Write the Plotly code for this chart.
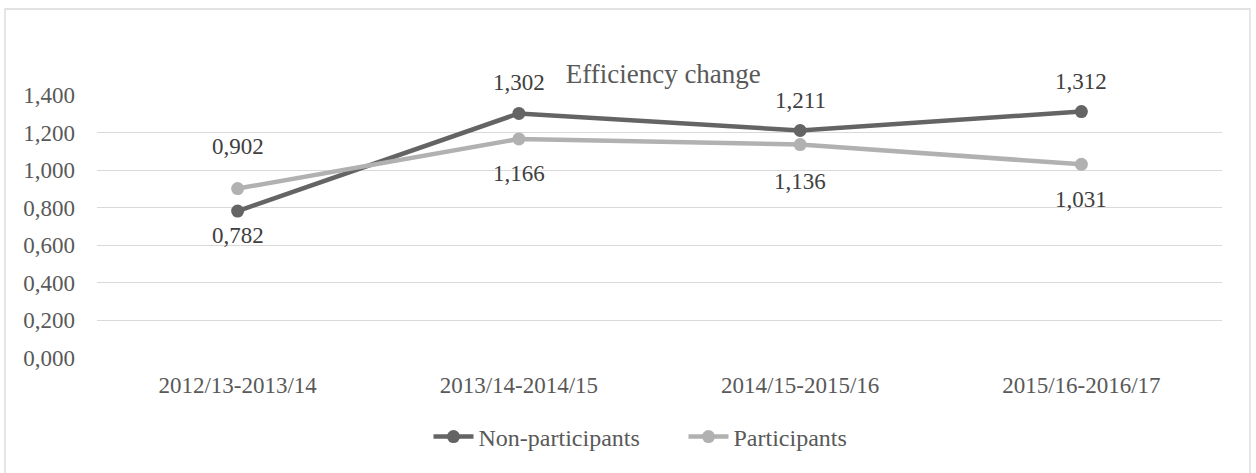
import plotly.graph_objects as go

categories = ["2012/13-2013/14", "2013/14-2014/15", "2014/15-2015/16", "2015/16-2016/17"]
non_participants = [0.782, 1.302, 1.211, 1.312]
participants = [0.902, 1.166, 1.136, 1.031]
y_ticks = [0.0, 0.2, 0.4, 0.6, 0.8, 1.0, 1.2, 1.4]

# label offsets in pixels (style only)
non_label_shift = [-24, 31, 30, 30]
part_label_shift = [42, -35, -37, -35]

DARK = "#646464"
LIGHT = "#b1b1b1"
TEXT = "#595959"
FONT = "Liberation Serif, Times New Roman, serif"

fig = go.Figure()
fig.add_trace(go.Scatter(x=categories, y=non_participants, name="Non-participants",
                         mode="lines+markers", line=dict(color=DARK, width=4.5),
                         marker=dict(color=DARK, size=13)))
fig.add_trace(go.Scatter(x=categories, y=participants, name="Participants",
                         mode="lines+markers", line=dict(color=LIGHT, width=4.5),
                         marker=dict(color=LIGHT, size=13)))

def fmt(v):
    return f"{v:.3f}".replace(".", ",")

annotations = []
for vals, shifts in ((non_participants, non_label_shift), (participants, part_label_shift)):
    for c, v, s in zip(categories, vals, shifts):
        annotations.append(dict(x=c, y=v, xref="x", yref="y", text=fmt(v), showarrow=False,
                                yshift=s, font=dict(family=FONT, size=23, color="#404040")))

L, R, T, B = 97, 1222, 95, 358
W, H = 1256, 473
fig.update_layout(
    width=W, height=H,
    margin=dict(l=L, r=W - R, t=T, b=H - B),
    paper_bgcolor="white", plot_bgcolor="white",
    title=dict(text="Efficiency change", x=(L + R) / 2 / W + 0.003, xanchor="center",
               y=1 - 74 / H, yanchor="middle",
               font=dict(family=FONT, size=27, color=TEXT)),
    font=dict(family=FONT, size=23, color=TEXT),
    separators=",.",
    xaxis=dict(type="category", range=[-0.5, 3.5], showgrid=False, showline=False,
               zeroline=False, ticks="", ticklabelstandoff=11,
               tickfont=dict(size=23, color=TEXT)),
    yaxis=dict(range=[0, 1.4], tickvals=y_ticks, tickformat=".3f", showgrid=True,
               gridcolor="#d9d9d9", gridwidth=1.3, zeroline=False, showline=False,
               ticks="", ticklabelstandoff=21, tickfont=dict(size=23, color=TEXT)),
    legend=dict(orientation="h", x=0.5 + 24 / (R - L), xanchor="center",
                y=-(437 - B) / (B - T), yanchor="middle",
                font=dict(size=24, color=TEXT), entrywidth=200, itemwidth=40),
    showlegend=True,
    annotations=annotations,
    shapes=[dict(type="rect", xref="paper", yref="paper",
                 x0=(5 - L) / (R - L), x1=(1250 - L) / (R - L),
                 y0=(B - 490) / (B - T), y1=(B - 9) / (B - T),
                 line=dict(color="#d9d9d9", width=1.3), layer="below")],
)

fig.write_html("out.html", config={"displayModeBar": False},
               post_script="document.body.style.margin='0';")
